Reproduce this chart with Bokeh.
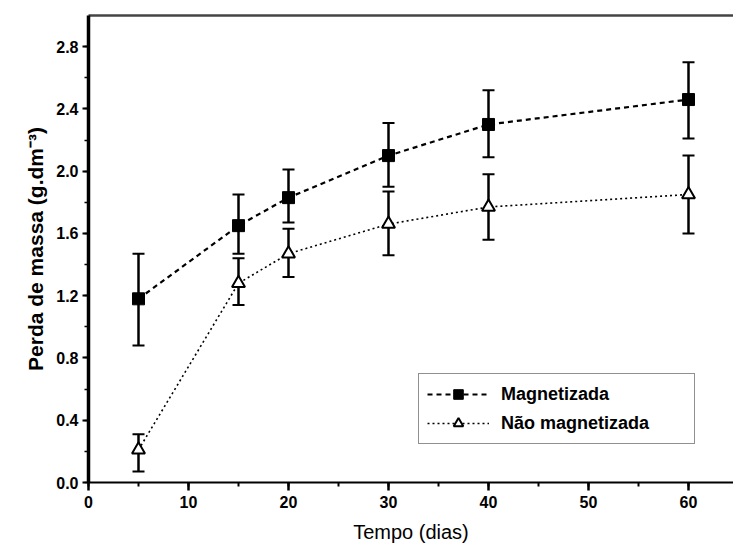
from bokeh.plotting import figure
from bokeh.models import (ColumnDataSource, Whisker, TeeHead, Legend, LegendItem,
                          LinearAxis, SingleIntervalTicker, FixedTicker,
                          PrintfTickFormatter, Range1d)
from bokeh.embed import file_html
from bokeh.resources import INLINE

# Mass loss (g.dm^-3) over time (days), mean with error-bar limits
days = [5, 15, 20, 30, 40, 60]

mag = [1.18, 1.65, 1.83, 2.10, 2.30, 2.46]
mag_upper = [1.47, 1.85, 2.01, 2.31, 2.52, 2.70]
mag_lower = [0.88, 1.47, 1.67, 1.90, 2.09, 2.21]

nao = [0.21, 1.28, 1.47, 1.66, 1.77, 1.85]
nao_upper = [0.31, 1.44, 1.63, 1.87, 1.98, 2.10]
nao_lower = [0.07, 1.14, 1.32, 1.46, 1.56, 1.60]

series_names = ["Magnetizada", "Não magnetizada"]

FONT = "Liberation Sans"

p = figure(width=733, height=551, frame_width=645, frame_height=467,
           min_border_left=88, min_border_right=0, min_border_top=15, min_border_bottom=69,
           x_range=Range1d(0, 64.5), y_range=Range1d(0, 3.0),
           output_backend="svg", toolbar_location=None)
p.outline_line_color = None
p.xgrid.grid_line_color = None
p.ygrid.grid_line_color = None
p.background_fill_color = "white"
p.border_fill_color = "white"

src_m = ColumnDataSource(dict(x=days, y=mag, u=mag_upper, l=mag_lower))
src_n = ColumnDataSource(dict(x=days, y=nao, u=nao_upper, l=nao_lower))

# error bars
for src in (src_m, src_n):
    w = Whisker(source=src, base="x", upper="u", lower="l",
                line_color="black", line_width=2.5,
                upper_head=TeeHead(size=12, line_width=2, line_color="black"),
                lower_head=TeeHead(size=12, line_width=2, line_color="black"))
    p.add_layout(w)

# connecting lines
l_m = p.line("x", "y", source=src_m, line_color="black", line_width=2.2, line_dash="5 4")
l_n = p.line("x", "y", source=src_n, line_color="black", line_width=1.6, line_dash="2 3")

# markers
s_m = p.scatter("x", "y", source=src_m, marker="square", size=12,
                fill_color="black", line_color="black")
s_n = p.scatter("x", "y", source=src_n, marker="triangle", size=13,
                fill_color="white", line_color="black", line_width=2)

# axes
xa = p.xaxis[0]
xa.ticker = SingleIntervalTicker(interval=10, num_minor_ticks=2)
xa.axis_label = "Tempo (dias)"
ya = p.yaxis[0]
ya.ticker = SingleIntervalTicker(interval=0.4, num_minor_ticks=2)
ya.formatter = PrintfTickFormatter(format="%.1f")
ya.axis_label = "Perda de massa (g.dm⁻³)"

for ax in (xa, ya):
    ax.axis_line_color = "black"
    ax.major_tick_line_color = "black"
    ax.minor_tick_line_color = "black"
    ax.major_tick_in = 0
    ax.minor_tick_in = 0
    ax.major_label_text_font = FONT
    ax.major_label_text_font_style = "bold"
    ax.major_label_text_font_size = "16px"
    ax.major_label_text_color = "black"
    ax.axis_label_text_font = FONT
    ax.axis_label_text_color = "black"

xa.axis_line_width = 2
xa.major_tick_line_width = 2.5
xa.minor_tick_line_width = 2
xa.major_tick_out = 8
xa.minor_tick_out = 4
xa.major_label_standoff = 5
xa.axis_label_text_font_size = "20px"
xa.axis_label_text_font_style = "normal"
xa.axis_label_standoff = 10

ya.axis_line_width = 3.5
ya.major_tick_line_width = 2
ya.minor_tick_line_width = 1.5
ya.major_tick_out = 6
ya.minor_tick_out = 4
ya.major_label_standoff = 4
ya.axis_label_text_font_size = "21px"
ya.axis_label_text_font_style = "bold"
ya.axis_label_standoff = 6

# top frame line
top = LinearAxis(axis_line_color="#444444", axis_line_width=2.5,
                 ticker=FixedTicker(ticks=[]),
                 major_tick_line_color=None, minor_tick_line_color=None)
p.add_layout(top, "above")

legend = Legend(items=[
    LegendItem(label=series_names[0], renderers=[l_m, s_m]),
    LegendItem(label=series_names[1], renderers=[l_n, s_n]),
], location=(330, 38))
legend.margin = 0
legend.padding = 8
legend.spacing = 5
legend.glyph_width = 62
legend.glyph_height = 24
legend.label_height = 24
legend.label_width = 185
legend.label_standoff = 12
legend.label_text_font = FONT
legend.label_text_font_style = "bold"
legend.label_text_font_size = "18px"
legend.label_text_color = "black"
legend.border_line_color = "#222222"
legend.border_line_width = 1.5
legend.background_fill_color = "white"
legend.background_fill_alpha = 1.0
p.add_layout(legend)

open("out.html", "w").write(file_html(p, INLINE))
